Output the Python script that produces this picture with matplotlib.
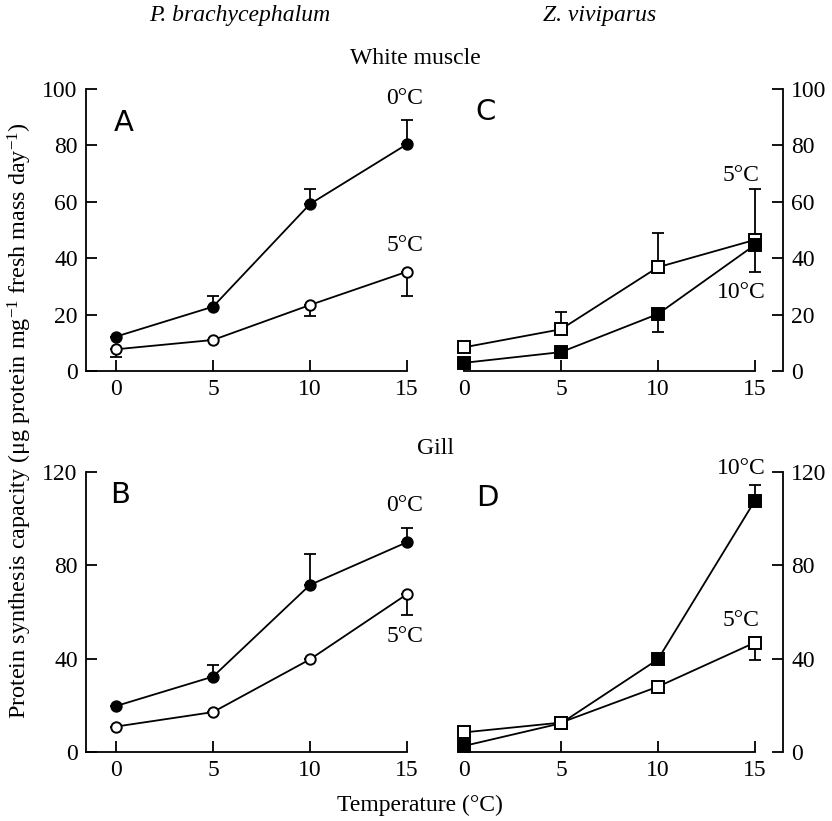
import numpy as np
import matplotlib
matplotlib.use("Agg")
import matplotlib.pyplot as plt

plt.rcParams['font.family'] = ['Liberation Serif', 'DejaVu Serif']
plt.rcParams['mathtext.fontset'] = 'custom'
plt.rcParams['mathtext.rm'] = 'Liberation Serif'
plt.rcParams['mathtext.it'] = 'Liberation Serif:italic'

temps = [0, 5, 10, 15]

# A: P. brachycephalum, white muscle
a_0c = [12.2, 22.8, 59.2, 80.4]
a_0c_up = [0.0, 3.9, 5.4, 8.6]
a_5c = [7.7, 11.0, 23.4, 35.2]
a_5c_down = [2.6, 0.0, 3.8, 8.6]

# B: P. brachycephalum, gill
b_0c = [19.7, 32.3, 71.6, 89.9]
b_0c_up = [0.0, 5.0, 13.3, 6.2]
b_5c = [10.9, 17.1, 39.7, 67.6]
b_5c_down = [0.0, 0.0, 0.0, 8.9]

# C: Z. viviparus, white muscle
c_5c = [8.4, 14.8, 36.8, 46.5]
c_5c_up = [0.0, 6.2, 12.0, 17.9]
c_10c = [2.9, 6.7, 20.2, 44.7]
c_10c_down = [0.0, 2.2, 6.3, 9.5]

# D: Z. viviparus, gill
d_10c = [2.6, 12.3, 39.7, 107.7]
d_10c_up = [0.0, 0.0, 0.0, 6.7]
d_5c = [8.4, 12.6, 28.0, 46.9]
d_5c_down = [0.0, 0.0, 0.0, 7.5]

W, H = 832, 821
fig = plt.figure(figsize=(W / 100, H / 100), dpi=100)

def px_axes(x0, x1, ytop, ybot):
    return fig.add_axes([x0 / W, (H - ybot) / H, (x1 - x0) / W, (ybot - ytop) / H])

TICK_FS = 17
LABEL_FS = 17
XLIM = (-1.55, 16.45)


def series(ax, y, err_lo, err_hi, marker, filled):
    yerr = np.array([err_lo, err_hi])
    mfc = 'black' if filled else 'white'
    ax.errorbar(temps, y, yerr=yerr, fmt='none', ecolor='black', elinewidth=1.3,
                capsize=4, capthick=1.3, clip_on=False, zorder=2)
    ms = 7.5 if marker == 'o' else 8.5
    ax.plot(temps, y, color='black', lw=1.3, marker=marker, ms=ms, mfc=mfc,
            mec='black', mew=1.4, clip_on=False, zorder=3)


def style(ax, side, ymax, yticks):
    ax.set_xlim(*XLIM)
    ax.set_ylim(0, ymax)
    ax.set_xticks(temps)
    ax.set_yticks(yticks)
    ax.spines['top'].set_visible(False)
    ax.tick_params(direction='in', length=8, width=1.3, labelsize=TICK_FS, pad=6)
    for s in ax.spines.values():
        s.set_linewidth(1.3)
    if side == 'left':
        ax.spines['right'].set_visible(False)
        ax.spines['bottom'].set_bounds(XLIM[0], 15)
    else:
        ax.spines['left'].set_visible(False)
        ax.spines['bottom'].set_bounds(0, 15)
        ax.yaxis.tick_right()
        ax.yaxis.set_label_position('right')
    ax.patch.set_visible(False)


def lab(ax, x, y, s, ha='center'):
    ax.text(x, y, s, fontsize=TICK_FS, ha=ha, va='center', transform=ax.transData)


# top row
ax_a = px_axes(86, 435, 89, 371)
series(ax_a, a_0c, [0] * 4, a_0c_up, 'o', True)
series(ax_a, a_5c, a_5c_down, [0] * 4, 'o', False)
style(ax_a, 'left', 100, [0, 20, 40, 60, 80, 100])
lab(ax_a, 14.9, 96.5, '0°C')
lab(ax_a, 14.9, 44.5, '5°C')
ax_a.text(-0.1, 88, 'A', fontsize=21, family='DejaVu Sans', va='center', ha='left')

ax_c = px_axes(434, 783, 89, 371)
series(ax_c, c_5c, [0] * 4, c_5c_up, 's', False)
series(ax_c, c_10c, c_10c_down, [0] * 4, 's', True)
style(ax_c, 'right', 100, [0, 20, 40, 60, 80, 100])
lab(ax_c, 14.3, 69.5, '5°C')
lab(ax_c, 14.3, 28.0, '10°C')
ax_c.text(0.6, 92, 'C', fontsize=21, family='DejaVu Sans', va='center', ha='left')

# bottom row
ax_b = px_axes(86, 435, 472, 752)
series(ax_b, b_0c, [0] * 4, b_0c_up, 'o', True)
series(ax_b, b_5c, b_5c_down, [0] * 4, 'o', False)
style(ax_b, 'left', 120, [0, 40, 80, 120])
lab(ax_b, 14.9, 105.5, '0°C')
lab(ax_b, 14.9, 49.5, '5°C')
ax_b.text(-0.3, 110, 'B', fontsize=21, family='DejaVu Sans', va='center', ha='left')

ax_d = px_axes(434, 783, 472, 752)
series(ax_d, d_10c, [0] * 4, d_10c_up, 's', True)
series(ax_d, d_5c, d_5c_down, [0] * 4, 's', False)
style(ax_d, 'right', 120, [0, 40, 80, 120])
lab(ax_d, 14.3, 121.5, '10°C')
lab(ax_d, 14.3, 56.5, '5°C')
ax_d.text(0.6, 109, 'D', fontsize=21, family='DejaVu Sans', va='center', ha='left')

# figure texts
fig.text(240 / W, 1 - 15 / H, 'P. brachycephalum', fontsize=LABEL_FS, style='italic',
         ha='center', va='center')
fig.text(600 / W, 1 - 15 / H, 'Z. viviparus', fontsize=LABEL_FS, style='italic',
         ha='center', va='center')
fig.text(415 / W, 1 - 58 / H, 'White muscle', fontsize=LABEL_FS, ha='center', va='center')
fig.text(436 / W, 1 - 448 / H, 'Gill', fontsize=LABEL_FS, ha='center', va='center')
fig.text(420 / W, 1 - 805 / H, 'Temperature (°C)', fontsize=LABEL_FS,
         ha='center', va='center')
fig.text(20 / W, 1 - 421 / H,
         'Protein synthesis capacity (μg protein mg$^{-1}$ fresh mass day$^{-1}$)',
         fontsize=17.4, rotation=90, ha='center', va='center')

fig.savefig('out.png', dpi=100)
